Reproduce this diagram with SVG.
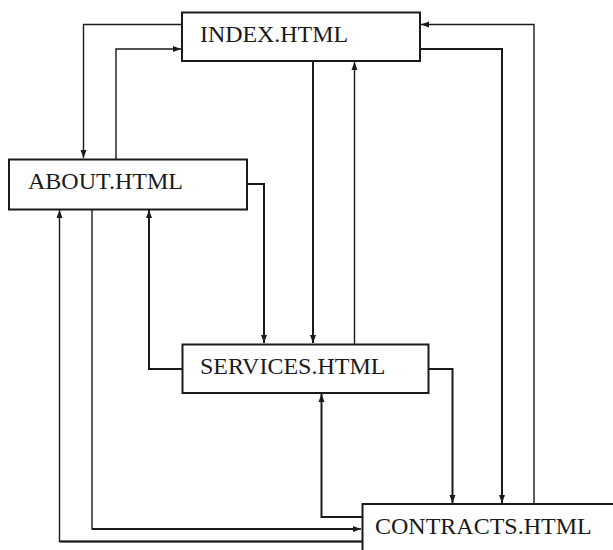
<svg xmlns="http://www.w3.org/2000/svg" width="613" height="550" viewBox="0 0 613 550">
  <style>
    .box { fill: #ffffff; stroke: #1a1a1a; stroke-width: 2; }
    .label { font-family: "Liberation Serif", "Times New Roman", serif; font-size: 24px; fill: #1a1a1a; }
    .link { fill: none; stroke: #1a1a1a; stroke-width: 1.4; }
    .thick { stroke-width: 2; }
    .arrow { marker-end: url(#head); }
  </style>
  <defs>
    <marker id="head" markerUnits="userSpaceOnUse" markerWidth="8" markerHeight="8" viewBox="0 0 8 8" refX="8" refY="4" orient="auto">
      <path d="M0,1 L8,4 L0,7 Z" fill="#1a1a1a"/>
    </marker>
  </defs>

  <g id="connectors">
    <!-- index -> about -->
    <path class="link arrow" d="M182,24.5 H83.5 V158"/>
    <!-- about -> index -->
    <path class="link arrow" d="M116,159 V49 H181"/>
    <!-- contracts -> index -->
    <path class="link arrow" d="M534,504 V24.5 H421"/>
    <!-- index -> contracts -->
    <path class="link thick arrow" d="M420,49 H502 V503"/>
    <!-- index -> services -->
    <path class="link thick arrow" d="M313,61 V343"/>
    <!-- services -> index -->
    <path class="link arrow" d="M354.5,344 V62"/>
    <!-- about -> services -->
    <path class="link thick arrow" d="M247,184 H264 V343"/>
    <!-- services -> about -->
    <path class="link thick arrow" d="M182,369 H149 V210"/>
    <!-- services -> contracts -->
    <path class="link thick arrow" d="M428,369 H452.5 V503"/>
    <!-- contracts -> services -->
    <path class="link thick arrow" d="M362,517 H321.5 V394"/>
    <!-- about -> contracts -->
    <path class="link arrow" d="M92,209 V529 H361"/>
    <path class="link thick" d="M92,529 H355"/>
    <!-- contracts -> about -->
    <path class="link arrow" d="M362,541.5 H59.5 V210"/>
    <path class="link thick" d="M362,541.5 H60"/>
  </g>

  <g id="index">
    <rect class="box" x="182" y="12.5" width="238" height="48.5"/>
    <text class="label" x="200" y="42" textLength="148" lengthAdjust="spacingAndGlyphs">INDEX.HTML</text>
  </g>

  <g id="about">
    <rect class="box" x="9" y="159.5" width="238" height="50"/>
    <text class="label" x="28" y="188.5">ABOUT.HTML</text>
  </g>

  <g id="services">
    <rect class="box" x="182.5" y="344.5" width="246" height="48.5"/>
    <text class="label" x="200" y="373.5">SERVICES.HTML</text>
  </g>

  <g id="contracts">
    <rect class="box" x="362.5" y="504" width="260" height="60"/>
    <text class="label" x="375" y="533.5">CONTRACTS.HTML</text>
  </g>
</svg>
